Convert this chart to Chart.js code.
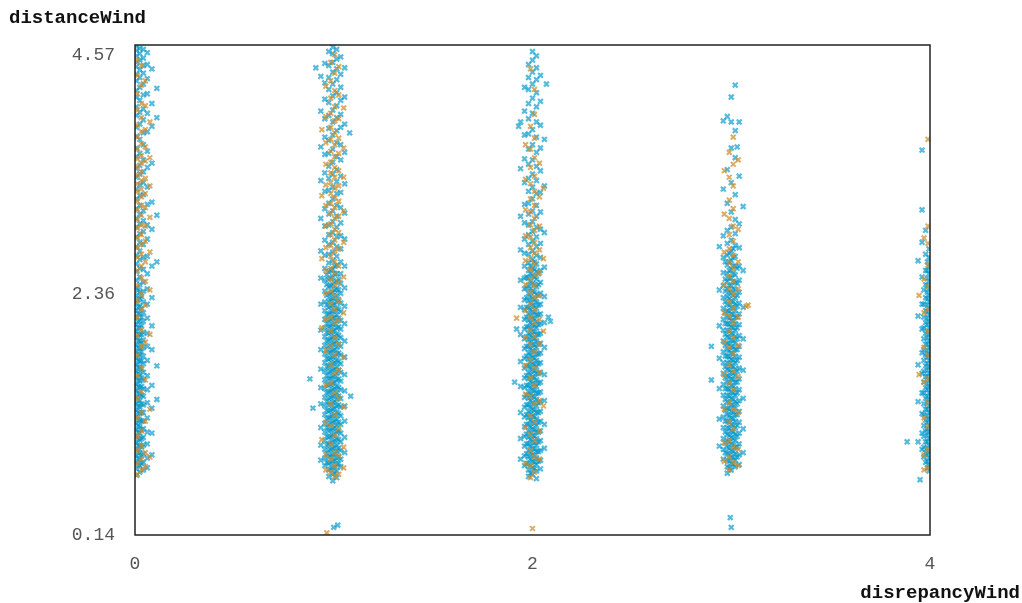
<!DOCTYPE html>
<html>
<head>
<meta charset="utf-8">
<script src="https://cdn.jsdelivr.net/npm/chart.js@4.4.1/dist/chart.umd.min.js"></script>
<style>
  html, body { margin: 0; padding: 0; background: #fff; }
  #wrap { width: 1022px; height: 603px; position: relative; }
</style>
</head>
<body>
<div id="wrap"><canvas id="chart"></canvas></div>
<script>
// axis setup
const xTicks = [0, 2, 4];
const yTicks = [0.14, 2.36, 4.57];
const yMin = 0.14, yMax = 4.66;
const xTitle = 'disrepancyWind';
const yTitle = 'distanceWind';

// each column: [x offset, [y values]] lanes, estimated from the scatter
const blueCol0 = [
  [0.008, [4.65,4.61,4.56,4.50,4.46,4.39,4.33,4.24,4.18,4.09,4.01,3.90,3.82,3.71,3.63,3.52,3.44,3.33,3.24,3.15,3.06,2.98,2.89,2.80,2.72,2.64,2.57,2.49,2.42,2.35,2.28,2.21,2.15,2.08,2.02,1.96,1.89,1.83,1.77,1.71,1.65,1.59,1.53,1.47,1.41,1.35,1.29,1.23,1.17,1.11,1.05,0.99,0.93,0.87,0.81,0.75,0.69]],
  [0.016, [2.40,2.31,2.24,2.18,2.11,2.05,1.99,1.93,1.87,1.81,1.75,1.69,1.63,1.57,1.51,1.45,1.39,1.33,1.27,1.21,1.15,1.09,1.03,0.97,0.91,0.85,0.79]],
  [0.024, [4.63,4.58,4.52,4.43,4.36,4.27,4.15,4.04,3.93,3.79,3.66,3.55,3.47,3.37,3.27,3.18,3.10,3.01,2.92,2.84,2.76,2.68,2.60,2.52,2.45,2.38,2.32,2.25,2.18,2.12,2.05,1.99,1.93,1.86,1.80,1.74,1.68,1.62,1.56,1.50,1.44,1.38,1.32,1.26,1.20,1.14,1.08,1.02,0.96,0.90,0.84,0.78,0.72]],
  [0.033, [2.34,2.23,2.15,2.07,1.99,1.91,1.83,1.75,1.67,1.59,1.51,1.43,1.35,1.27,1.19,1.11,1.03,0.95,0.87,0.80]],
  [0.042, [4.62,4.54,4.47,4.40,4.30,4.20,4.07,3.97,3.85,3.74,3.60,3.49,3.39,3.28,3.13,3.04,2.94,2.82,2.70,2.59,2.47,2.39,2.29,2.19,2.11,2.01,1.94,1.87,1.79,1.72,1.64,1.57,1.49,1.42,1.34,1.27,1.19,1.12,1.04,0.97,0.89,0.81,0.74]],
  [0.062, [4.59,4.48,4.35,4.21,4.03,3.86,3.68,3.53,3.35,3.19,3.00,2.87,2.71,2.55,2.41,2.27,2.14,2.00,1.88,1.75,1.61,1.48,1.36,1.22,1.09,0.98,0.85,0.76]],
  [0.085, [4.44,4.12,3.91,3.57,3.21,2.96,2.62,2.33,2.07,1.85,1.52,1.31,1.08,0.88]],
  [0.110, [4.26,3.99,3.09,2.66,1.70,1.39]]
];
const blueCol1 = [
  [-0.005, [4.64,4.58,4.50,4.41,4.30,4.19,4.06,3.95,3.83,3.70,3.58,3.47,3.35,3.24,3.13,3.03,2.93,2.84,2.75,2.67,2.59,2.52,2.45,2.38,2.32,2.26,2.20,2.14,2.08,2.02,1.96,1.90,1.84,1.78,1.72,1.66,1.60,1.54,1.48,1.42,1.36,1.30,1.24,1.18,1.12,1.06,1.00,0.94,0.88,0.82,0.76,0.70,0.64]],
  [0.005, [2.62,2.55,2.47,2.40,2.33,2.27,2.21,2.15,2.09,2.03,1.97,1.91,1.85,1.79,1.73,1.67,1.61,1.55,1.49,1.43,1.37,1.31,1.25,1.19,1.13,1.07,1.01,0.95,0.89,0.83,0.77,0.71]],
  [0.015, [4.62,4.53,4.44,4.34,4.22,4.10,3.99,3.87,3.76,3.63,3.51,3.40,3.29,3.18,3.08,2.98,2.89,2.80,2.71,2.63,2.55,2.48,2.41,2.35,2.29,2.23,2.17,2.11,2.05,1.99,1.93,1.87,1.81,1.75,1.69,1.63,1.57,1.51,1.45,1.39,1.33,1.27,1.21,1.15,1.09,1.03,0.97,0.91,0.85,0.79,0.73,0.67]],
  [-0.015, [2.58,2.51,2.44,2.37,2.31,2.25,2.19,2.13,2.07,2.01,1.95,1.89,1.83,1.77,1.71,1.65,1.59,1.53,1.47,1.41,1.35,1.29,1.23,1.17,1.11,1.05,0.99,0.93,0.87,0.81,0.75]],
  [-0.025, [4.60,4.47,4.36,4.25,4.13,4.01,3.89,3.78,3.66,3.54,3.43,3.32,3.20,3.10,3.00,2.91,2.82,2.73,2.65,2.57,2.50,2.43,2.36,2.30,2.24,2.18,2.12,2.06,2.00,1.94,1.88,1.82,1.76,1.70,1.64,1.58,1.52,1.46,1.40,1.34,1.28,1.22,1.16,1.10,1.04,0.98,0.92,0.86,0.80,0.74,0.68]],
  [0.025, [2.50,2.40,2.31,2.22,2.14,2.06,1.98,1.90,1.82,1.74,1.66,1.58,1.50,1.42,1.34,1.26,1.18,1.10,1.02,0.94,0.86,0.80]],
  [0.035, [4.55,4.39,4.27,4.15,4.02,3.90,3.74,3.60,3.45,3.30,3.16,3.02,2.90,2.78,2.66,2.55,2.46,2.37,2.28,2.20,2.12,2.04,1.96,1.88,1.80,1.72,1.64,1.56,1.48,1.40,1.32,1.24,1.16,1.08,1.00,0.92,0.84,0.77]],
  [-0.035, [2.54,2.45,2.35,2.26,2.17,2.09,2.01,1.93,1.85,1.77,1.69,1.61,1.53,1.45,1.37,1.29,1.21,1.13,1.05,0.97,0.89,0.81]],
  [-0.045, [4.49,4.31,4.16,3.98,3.81,3.65,3.48,3.31,3.15,2.99,2.86,2.72,2.60,2.49,2.39,2.29,2.21,2.13,2.05,1.97,1.89,1.81,1.73,1.65,1.57,1.49,1.41,1.33,1.25,1.17,1.09,1.01,0.93,0.85,0.78]],
  [0.055, [4.45,4.18,3.93,3.67,3.38,3.11,2.87,2.62,2.42,2.25,2.09,1.93,1.78,1.62,1.47,1.33,1.19,1.04,0.90]],
  [-0.065, [4.37,4.05,3.72,3.41,3.06,2.76,2.51,2.27,2.03,1.85,1.67,1.50,1.35,1.13,0.97,0.83]]
];
const blueCol2 = [
  [0.0, [4.60,4.52,4.41,4.30,4.17,4.03,3.88,3.74,3.60,3.47,3.35,3.24,3.13,3.03,2.94,2.85,2.76,2.68,2.60,2.53,2.46,2.39,2.32,2.26,2.20,2.14,2.08,2.02,1.96,1.90,1.84,1.78,1.72,1.66,1.60,1.54,1.48,1.42,1.36,1.30,1.24,1.18,1.12,1.06,1.00,0.94,0.88,0.82,0.76,0.70]],
  [0.01, [2.66,2.59,2.52,2.45,2.38,2.31,2.25,2.19,2.13,2.07,2.01,1.95,1.89,1.83,1.77,1.71,1.65,1.59,1.53,1.47,1.41,1.35,1.29,1.23,1.17,1.11,1.05,0.99,0.93,0.87,0.81,0.75]],
  [0.02, [4.56,4.45,4.34,4.22,4.09,3.95,3.81,3.67,3.54,3.41,3.29,3.18,3.08,2.98,2.89,2.80,2.72,2.64,2.57,2.50,2.43,2.36,2.29,2.23,2.17,2.11,2.05,1.99,1.93,1.87,1.81,1.75,1.69,1.63,1.57,1.51,1.45,1.39,1.33,1.27,1.21,1.15,1.09,1.03,0.97,0.91,0.85,0.79,0.73,0.66]],
  [-0.01, [2.62,2.55,2.48,2.41,2.34,2.28,2.22,2.16,2.10,2.04,1.98,1.92,1.86,1.80,1.74,1.68,1.62,1.56,1.50,1.44,1.38,1.32,1.26,1.20,1.14,1.08,1.02,0.96,0.90,0.84,0.78,0.71]],
  [-0.02, [4.48,4.36,4.25,4.12,3.98,3.84,3.70,3.56,3.43,3.31,3.20,3.10,3.00,2.91,2.82,2.73,2.65,2.58,2.51,2.44,2.37,2.30,2.24,2.18,2.12,2.06,2.00,1.94,1.88,1.82,1.76,1.70,1.64,1.58,1.52,1.46,1.40,1.34,1.28,1.22,1.16,1.10,1.04,0.98,0.92,0.86,0.80,0.74,0.68]],
  [0.03, [2.55,2.45,2.35,2.26,2.17,2.08,1.99,1.90,1.81,1.72,1.63,1.54,1.45,1.36,1.27,1.18,1.09,1.00,0.91,0.82]],
  [-0.03, [2.52,2.42,2.33,2.24,2.15,2.06,1.97,1.88,1.79,1.70,1.61,1.52,1.43,1.34,1.25,1.16,1.07,0.98,0.89,0.80]],
  [0.04, [4.38,4.14,3.92,3.71,3.50,3.30,3.12,2.96,2.83,2.70,2.58,2.47,2.37,2.27,2.18,2.09,2.00,1.91,1.82,1.73,1.64,1.55,1.46,1.37,1.28,1.19,1.10,1.01,0.92,0.83,0.75]],
  [-0.04, [4.27,4.05,3.83,3.61,3.39,3.19,3.02,2.87,2.74,2.62,2.51,2.41,2.31,2.22,2.13,2.04,1.95,1.86,1.77,1.68,1.59,1.50,1.41,1.32,1.23,1.14,1.05,0.96,0.87,0.78]],
  [0.06, [3.79,3.36,2.93,2.61,2.34,2.10,1.87,1.62,1.38,1.16,0.94]],
  [-0.06, [3.95,3.52,3.08,2.77,2.49,2.24,1.99,1.74,1.51,1.27,1.03,0.84]]
];
const blueCol3 = [
  [0.0, [4.18,3.95,3.71,3.39,3.12,2.98,2.86,2.76,2.67,2.59,2.51,2.44,2.37,2.30,2.24,2.18,2.12,2.06,2.00,1.94,1.88,1.82,1.76,1.70,1.64,1.58,1.52,1.46,1.40,1.34,1.28,1.22,1.16,1.10,1.04,0.98,0.92,0.86,0.80,0.74]],
  [0.01, [2.78,2.70,2.62,2.55,2.48,2.41,2.35,2.29,2.23,2.17,2.11,2.05,1.99,1.93,1.87,1.81,1.75,1.69,1.63,1.57,1.51,1.45,1.39,1.33,1.27,1.21,1.15,1.09,1.03,0.97,0.91,0.85,0.79]],
  [0.02, [4.29,3.87,3.62,3.28,3.05,2.92,2.81,2.71,2.62,2.54,2.47,2.40,2.33,2.27,2.21,2.15,2.09,2.03,1.97,1.91,1.85,1.79,1.73,1.67,1.61,1.55,1.49,1.43,1.37,1.31,1.25,1.19,1.13,1.07,1.01,0.95,0.89,0.83,0.77]],
  [-0.01, [2.74,2.66,2.58,2.51,2.44,2.38,2.32,2.26,2.20,2.14,2.08,2.02,1.96,1.90,1.84,1.78,1.72,1.66,1.60,1.54,1.48,1.42,1.36,1.30,1.24,1.18,1.12,1.06,1.00,0.94,0.88,0.82,0.76]],
  [-0.02, [4.00,3.51,3.20,2.95,2.83,2.72,2.63,2.55,2.48,2.41,2.34,2.27,2.21,2.15,2.09,2.03,1.97,1.91,1.85,1.79,1.73,1.67,1.61,1.55,1.49,1.43,1.37,1.31,1.25,1.19,1.13,1.07,1.01,0.95,0.89,0.83,0.77,0.71]],
  [0.03, [2.60,2.46,2.35,2.25,2.15,2.05,1.95,1.85,1.75,1.65,1.55,1.45,1.35,1.25,1.15,1.05,0.95,0.86]],
  [-0.03, [2.66,2.50,2.39,2.29,2.19,2.09,1.99,1.89,1.79,1.69,1.59,1.49,1.39,1.29,1.19,1.09,0.99,0.90]],
  [0.04, [3.95,3.45,3.01,2.79,2.62,2.49,2.38,2.28,2.18,2.08,1.98,1.88,1.78,1.68,1.58,1.48,1.38,1.28,1.18,1.08,0.98,0.88,0.79]],
  [-0.04, [3.96,3.33,2.90,2.70,2.56,2.44,2.33,2.23,2.13,2.03,1.93,1.83,1.73,1.63,1.53,1.43,1.33,1.23,1.13,1.03,0.93,0.84]],
  [0.06, [3.17,2.58,2.24,1.95,1.66,1.40,1.12,0.90]],
  [-0.06, [2.80,2.40,2.07,1.77,1.49,1.21,0.96]]
];
const blueCol4 = [
  [-0.005, [2.78,2.70,2.62,2.55,2.48,2.41,2.35,2.29,2.23,2.17,2.11,2.05,1.99,1.93,1.87,1.81,1.75,1.69,1.63,1.57,1.51,1.45,1.39,1.33,1.27,1.21,1.15,1.09,1.03,0.97,0.91,0.85,0.79,0.73]],
  [-0.013, [2.66,2.58,2.51,2.44,2.38,2.32,2.26,2.20,2.14,2.08,2.02,1.96,1.90,1.84,1.78,1.72,1.66,1.60,1.54,1.48,1.42,1.36,1.30,1.24,1.18,1.12,1.06,1.00,0.94,0.88,0.82,0.76]],
  [-0.022, [2.95,2.73,2.58,2.45,2.33,2.21,2.10,2.00,1.90,1.80,1.70,1.60,1.50,1.40,1.30,1.20,1.10,1.00,0.90,0.81]],
  [-0.031, [2.40,2.27,2.15,2.05,1.95,1.85,1.75,1.65,1.55,1.45,1.35,1.25,1.15,1.05,0.95,0.86]],
  [-0.04, [3.69,3.14,2.84,2.52,2.27,2.04,1.82,1.63,1.45,1.26,1.08,0.93]],
  [-0.06, [2.67,2.16,1.71,1.37,1.00]]
];
const blueOutliers = [
  [0.88, 1.58], [0.895, 1.31], [1.08, 3.85], [0.91, 4.45], [1.085, 1.42], [1.0, 0.21], [1.02, 0.23],
  [1.92, 2.04], [2.08, 2.15], [2.09, 2.11], [1.93, 3.91], [2.07, 4.30], [1.91, 1.55],
  [2.90, 1.88], [2.90, 1.57], [2.995, 0.30], [3.0, 0.21], [3.03, 3.72],
  [3.885, 1.00], [3.95, 0.65]
];

const orangeCol0 = [
  [0.012, [4.52,4.38,4.21,4.06,3.92,3.81,3.70,3.61,3.54,3.46,3.38,3.31,3.22,3.14,3.05,2.97,2.88,2.79,2.70,2.58,2.44,2.30,2.15,1.98,1.80,1.61,1.40,1.22,1.05,0.92,0.80,0.70]],
  [0.032, [4.47,4.29,4.12,3.99,3.86,3.75,3.64,3.57,3.49,3.41,3.33,3.26,3.18,3.09,3.00,2.91,2.82,2.73,2.62,2.51,2.36,2.22,2.03,1.88,1.68,1.46,1.27,1.10,0.96,0.84,0.74]],
  [0.052, [4.33,4.10,3.88,3.72,3.59,3.43,3.29,3.16,2.99,2.85,2.66,2.48,2.26,1.92,1.57,1.19,0.90,0.77]],
  [0.075, [3.95,3.62,3.36,3.07,2.75,2.40,1.99,1.30,0.86]]
];
const orangeCol1 = [
  [0.005, [4.57,4.40,4.24,4.09,3.96,3.85,3.74,3.63,3.53,3.44,3.34,3.25,3.16,3.06,2.96,2.86,2.76,2.66,2.55,2.45,2.34,2.22,2.10,1.96,1.80,1.63,1.45,1.25,1.06,0.90,0.78,0.68]],
  [-0.015, [4.50,4.33,4.17,4.03,3.90,3.79,3.68,3.58,3.48,3.39,3.29,3.20,3.11,3.01,2.91,2.81,2.71,2.60,2.50,2.39,2.27,2.15,2.02,1.88,1.71,1.54,1.35,1.15,0.98,0.84,0.72]],
  [0.025, [4.46,4.20,3.98,3.80,3.66,3.50,3.36,3.22,3.08,2.93,2.78,2.62,2.47,2.30,2.12,1.90,1.66,1.40,1.12,0.87,0.70]],
  [-0.04, [4.28,4.00,3.76,3.56,3.37,3.18,2.99,2.79,2.58,2.37,2.13,1.84,1.52,1.18,0.88,0.74]],
  [0.05, [4.08,3.71,3.44,3.13,2.84,2.52,2.19,1.78,1.32,0.95,0.76]],
  [-0.06, [3.88,3.27,2.69,2.05,1.02]]
];
const orangeCol2 = [
  [0.01, [4.25,4.02,3.80,3.62,3.45,3.31,3.18,3.06,2.95,2.84,2.74,2.64,2.54,2.44,2.33,2.22,2.10,1.97,1.83,1.68,1.52,1.35,1.18,1.01,0.86,0.72]],
  [-0.01, [4.44,3.91,3.70,3.53,3.38,3.24,3.12,3.00,2.89,2.79,2.69,2.59,2.49,2.38,2.27,2.15,2.03,1.90,1.75,1.59,1.42,1.24,1.07,0.92,0.78,0.67]],
  [0.035, [3.57,3.26,2.99,2.77,2.56,2.35,2.13,1.90,1.64,1.38,1.10,0.84]],
  [-0.035, [3.74,3.42,3.14,2.90,2.67,2.45,2.21,1.96,1.70,1.44,1.13,0.80]],
  [0.055, [3.34,2.69,2.02,1.33]]
];
const orangeCol3 = [
  [0.01, [3.81,3.56,3.36,3.15,2.99,2.85,2.72,2.60,2.48,2.36,2.23,2.10,1.96,1.81,1.65,1.48,1.30,1.12,0.95,0.81]],
  [-0.01, [3.67,3.44,3.23,3.06,2.91,2.78,2.65,2.53,2.41,2.29,2.16,2.02,1.87,1.71,1.54,1.36,1.18,1.01,0.86,0.74]],
  [0.035, [3.60,2.96,2.66,2.41,2.15,1.89,1.60,1.27,0.93,0.78]],
  [-0.035, [3.50,3.10,2.75,2.45,2.19,1.92,1.62,1.30,0.99,0.82]]
];
const orangeCol4 = [
  [-0.01, [3.79,2.99,2.83,2.63,2.43,2.22,2.02,1.80,1.58,1.36,1.14,0.93,0.76]],
  [-0.03, [2.88,2.50,2.19,1.87,1.55,1.22,0.88,0.74]],
  [-0.055, [2.35,1.62]]
];
const orangeOutliers = [
  [0.965, 0.16], [1.92, 2.14], [2.0, 0.20], [3.085, 2.26], [3.075, 2.25]
];

const blueColumns = [blueCol0, blueCol1, blueCol2, blueCol3, blueCol4];
const orangeColumns = [orangeCol0, orangeCol1, orangeCol2, orangeCol3, orangeCol4];
const columnX = [0, 1, 2, 3, 4];

function toPoints(columns, outliers) {
  const pts = [];
  columns.forEach((lanes, i) => {
    lanes.forEach(lane => {
      lane[1].forEach(y => pts.push({ x: columnX[i] + lane[0], y: y }));
    });
  });
  outliers.forEach(p => pts.push({ x: p[0], y: p[1] }));
  return pts;
}

const monoFont = "'Liberation Mono', 'Courier New', monospace";

// frame + axis titles
const framePlugin = {
  id: 'frame',
  afterDraw(chart) {
    const ctx = chart.ctx;
    const a = chart.chartArea;
    ctx.save();
    ctx.strokeStyle = '#222';
    ctx.lineWidth = 1.5;
    ctx.strokeRect(a.left, a.top, a.right - a.left, a.bottom - a.top);
    ctx.fillStyle = '#111';
    ctx.font = 'bold 19px ' + monoFont;
    ctx.textBaseline = 'middle';
    ctx.textAlign = 'left';
    ctx.fillText(yTitle, 9, 18);
    ctx.textAlign = 'right';
    ctx.fillText(xTitle, 1020, 593);
    ctx.restore();
  }
};

new Chart(document.getElementById('chart'), {
  type: 'scatter',
  data: {
    datasets: [
      {
        label: 'orange',
        data: toPoints(orangeColumns, orangeOutliers),
        pointStyle: 'crossRot',
        pointRadius: 3.4,
        borderWidth: 2,
        borderColor: 'rgba(205, 140, 45, 0.72)',
        backgroundColor: 'rgba(205, 140, 45, 0.72)'
      },
      {
        label: 'blue',
        data: toPoints(blueColumns, blueOutliers),
        pointStyle: 'crossRot',
        pointRadius: 3.4,
        borderWidth: 2.2,
        borderColor: 'rgba(0, 150, 200, 0.66)',
        backgroundColor: 'rgba(0, 150, 200, 0.66)'
      }
    ]
  },
  options: {
    responsive: true,
    maintainAspectRatio: false,
    animation: false,
    layout: { padding: { left: 0, top: 45, right: 92, bottom: 0 } },
    plugins: { legend: { display: false }, tooltip: { enabled: false } },
    scales: {
      x: {
        type: 'linear',
        min: 0,
        max: 4,
        afterBuildTicks: axis => { axis.ticks = xTicks.map(v => ({ value: v })); },
        afterFit: scale => { scale.height = 68; },
        grid: { display: false, drawTicks: false },
        border: { display: false },
        ticks: {
          padding: 18,
          color: '#555',
          font: { family: monoFont, size: 18 },
          callback: v => String(v)
        }
      },
      y: {
        min: yMin,
        max: yMax,
        afterBuildTicks: axis => { axis.ticks = yTicks.map(v => ({ value: v })); },
        afterFit: scale => { scale.width = 135; },
        grid: { display: false, drawTicks: false },
        border: { display: false },
        ticks: {
          padding: 20,
          color: '#555',
          font: { family: monoFont, size: 18 },
          callback: v => Number(v).toFixed(2)
        }
      }
    }
  },
  plugins: [framePlugin]
});
</script>
</body>
</html>
